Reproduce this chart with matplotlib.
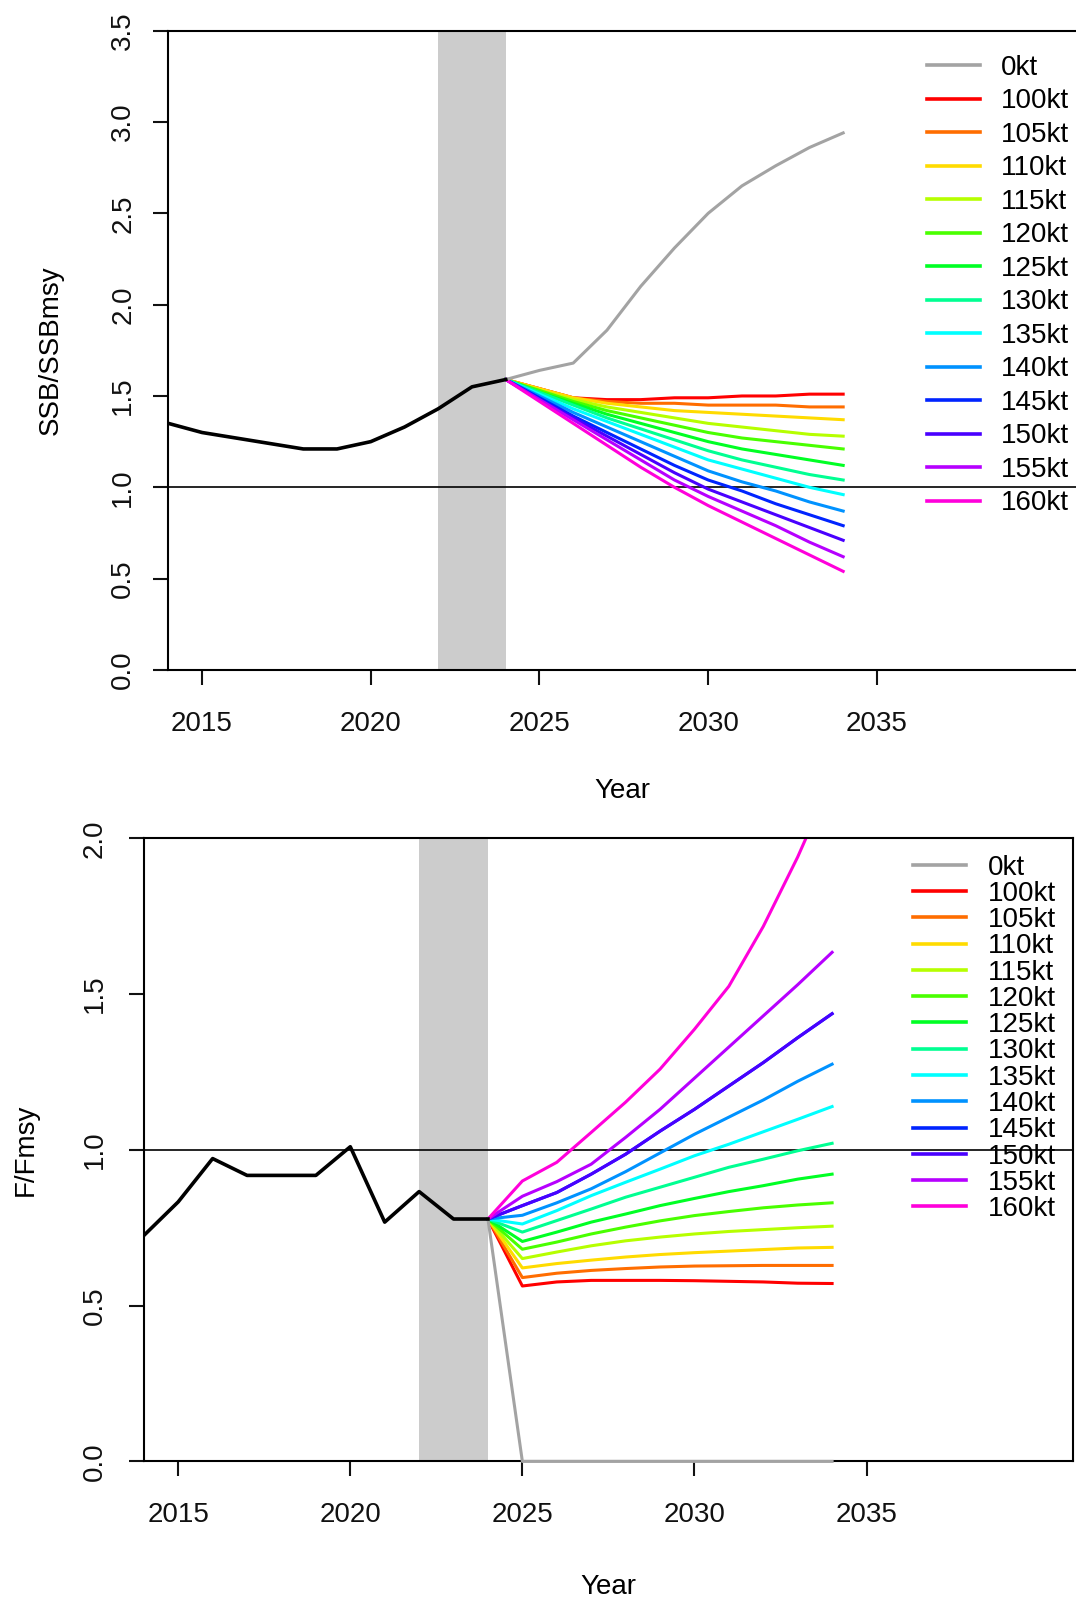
import numpy as np
import matplotlib
matplotlib.use("Agg")
import matplotlib.pyplot as plt
from matplotlib.colors import hsv_to_rgb
from matplotlib.lines import Line2D

plt.rcParams["font.family"] = ["Liberation Sans", "DejaVu Sans"]

# --- data -------------------------------------------------------------
hist_years = np.arange(2014, 2025)
proj_years = np.arange(2024, 2035)

ssb_hist = [1.35, 1.30, 1.27, 1.24, 1.21, 1.21, 1.25, 1.33, 1.43, 1.55, 1.59]
f_hist = [0.725, 0.833, 0.972, 0.918, 0.918, 0.918, 1.01, 0.768, 0.866, 0.778, 0.778]

catch_labels = ["0kt", "100kt", "105kt", "110kt", "115kt", "120kt", "125kt",
                "130kt", "135kt", "140kt", "145kt", "150kt", "155kt", "160kt"]

ssb_0kt = [1.59, 1.64, 1.68, 1.86, 2.10, 2.31, 2.50, 2.65, 2.76, 2.86, 2.94]
ssb_proj = [
    [1.59, 1.54, 1.49, 1.48, 1.48, 1.49, 1.49, 1.50, 1.50, 1.51, 1.51],  # 100kt
    [1.59, 1.54, 1.49, 1.47, 1.46, 1.46, 1.45, 1.45, 1.45, 1.44, 1.44],  # 105kt
    [1.59, 1.54, 1.49, 1.46, 1.44, 1.42, 1.41, 1.40, 1.39, 1.38, 1.37],  # 110kt
    [1.59, 1.53, 1.48, 1.44, 1.41, 1.38, 1.35, 1.33, 1.31, 1.29, 1.28],  # 115kt
    [1.59, 1.53, 1.47, 1.42, 1.38, 1.34, 1.30, 1.27, 1.25, 1.23, 1.21],  # 120kt
    [1.59, 1.52, 1.46, 1.40, 1.35, 1.30, 1.25, 1.21, 1.18, 1.15, 1.12],  # 125kt
    [1.59, 1.52, 1.45, 1.38, 1.32, 1.26, 1.20, 1.15, 1.11, 1.07, 1.04],  # 130kt
    [1.59, 1.51, 1.43, 1.36, 1.29, 1.22, 1.15, 1.10, 1.05, 1.00, 0.96],  # 135kt
    [1.59, 1.50, 1.41, 1.33, 1.25, 1.17, 1.09, 1.03, 0.98, 0.92, 0.87],  # 140kt
    [1.59, 1.49, 1.39, 1.30, 1.21, 1.12, 1.04, 0.98, 0.91, 0.85, 0.79],  # 145kt
    [1.59, 1.48, 1.38, 1.28, 1.18, 1.08, 0.99, 0.92, 0.85, 0.78, 0.71],  # 150kt
    [1.59, 1.48, 1.37, 1.26, 1.15, 1.04, 0.95, 0.87, 0.79, 0.70, 0.62],  # 155kt
    [1.59, 1.47, 1.35, 1.23, 1.11, 1.00, 0.90, 0.81, 0.72, 0.63, 0.54],  # 160kt
]

f_0kt = [0.778, 0.0, 0.0, 0.0, 0.0, 0.0, 0.0, 0.0, 0.0, 0.0, 0.0]
f_proj = [
    [0.778, 0.563, 0.576, 0.581, 0.581, 0.581, 0.580, 0.578, 0.576, 0.572, 0.571],  # 100kt
    [0.778, 0.590, 0.604, 0.613, 0.619, 0.624, 0.627, 0.628, 0.629, 0.629, 0.629],  # 105kt
    [0.778, 0.621, 0.635, 0.646, 0.656, 0.664, 0.670, 0.675, 0.680, 0.685, 0.687],  # 110kt
    [0.778, 0.651, 0.672, 0.692, 0.708, 0.720, 0.730, 0.738, 0.744, 0.750, 0.755],  # 115kt
    [0.778, 0.681, 0.704, 0.730, 0.752, 0.772, 0.789, 0.802, 0.814, 0.823, 0.830],  # 120kt
    [0.778, 0.706, 0.736, 0.768, 0.794, 0.821, 0.844, 0.866, 0.885, 0.906, 0.922],  # 125kt
    [0.778, 0.736, 0.773, 0.810, 0.848, 0.880, 0.912, 0.944, 0.970, 0.997, 1.021],  # 130kt
    [0.778, 0.762, 0.805, 0.853, 0.896, 0.938, 0.981, 1.018, 1.058, 1.098, 1.139],  # 135kt
    [0.778, 0.790, 0.830, 0.875, 0.930, 0.990, 1.050, 1.105, 1.160, 1.220, 1.275],  # 140kt
    [0.778, 0.821, 0.863, 0.922, 0.986, 1.060, 1.130, 1.205, 1.280, 1.360, 1.437],  # 145kt
    [0.778, 0.821, 0.863, 0.922, 0.986, 1.060, 1.130, 1.205, 1.280, 1.360, 1.437],  # 150kt
    [0.778, 0.851, 0.898, 0.954, 1.040, 1.130, 1.230, 1.330, 1.430, 1.530, 1.634],  # 155kt
    [0.778, 0.900, 0.960, 1.056, 1.153, 1.259, 1.387, 1.525, 1.717, 1.940, 2.190],  # 160kt
]

# --- style --------------------------------------------------------------
W, H, DPI = 1076, 1599, 100
FS = 20
TICK_LEN = 11
GREY_LINE = "#a3a3a3"
SHADE = "#cccccc"
n_col = len(ssb_proj)
colors = [hsv_to_rgb((i / (n_col + 1), 1, 1)) for i in range(n_col)]


def px_rect(left, top, right, bottom):
    return [left / W, 1 - bottom / H, (right - left) / W, (bottom - top) / H]


def draw_panel(ax, hist, zero, proj, ylim, yticks, ylabel, xmax, leg_anchor, leg_spacing,
               leg_textpad, ylab_x, xlab_y, ypad):
    ax.axvspan(2022, 2024, color=SHADE, lw=0, zorder=0)
    ax.axhline(1.0, color="black", lw=1.2, zorder=1)
    ax.plot(hist_years, hist, color="black", lw=2.6, zorder=3)
    ax.plot(proj_years, zero, color=GREY_LINE, lw=2.2, zorder=2.6, clip_on=False)
    for vals, col in zip(proj, colors):
        ax.plot(proj_years, vals, color=col, lw=2.2, zorder=2)

    ax.set_xlim(2014, xmax)
    ax.set_ylim(*ylim)
    ax.set_xticks([2015, 2020, 2025, 2030, 2035])
    ax.set_yticks(yticks)
    ax.set_yticklabels([f"{v:.1f}" for v in yticks], rotation=90, va="center")
    ax.tick_params(axis="both", direction="out", length=TICK_LEN, width=1.5,
                   labelsize=FS, colors="#111111")
    ax.tick_params(axis="x", pad=18.5)
    ax.tick_params(axis="y", pad=ypad)
    for sp in ax.spines.values():
        sp.set_linewidth(1.5)

    ax.set_xlabel("Year", fontsize=FS, va="center")
    ax.xaxis.set_label_coords(0.5, xlab_y)
    ax.set_ylabel(ylabel, fontsize=FS, va="center")
    ax.yaxis.set_label_coords(ylab_x, 0.5)

    handles = [Line2D([], [], color=GREY_LINE, lw=2.6)]
    handles += [Line2D([], [], color=c, lw=2.6) for c in colors]
    ax.legend(handles, catch_labels, loc="upper left", bbox_to_anchor=leg_anchor,
              frameon=False, fontsize=FS, handlelength=1.92, handletextpad=leg_textpad,
              labelspacing=leg_spacing, borderpad=0, borderaxespad=0)


fig = plt.figure(figsize=(W / DPI, H / DPI), dpi=DPI)

ax1 = fig.add_axes(px_rect(168.3, 30.6, 1076, 670))
draw_panel(ax1, ssb_hist, ssb_0kt, ssb_proj, (0, 3.5),
           [0, 0.5, 1.0, 1.5, 2.0, 2.5, 3.0, 3.5], "SSB/SSBmsy", 2040.9,
           (0.836, 0.962), 0.27, 0.72, -0.129, -0.19, 12)
ax1.spines["right"].set_visible(False)

ax2 = fig.add_axes(px_rect(143.8, 838.3, 1073, 1461.4))
draw_panel(ax2, f_hist, f_0kt, f_proj, (0, 2.0),
           [0, 0.5, 1.0, 1.5, 2.0], "F/Fmsy", 2041.0,
           (0.8275, 0.974), 0.01, 0.8, -0.1273, -0.2018, 15)

fig.savefig("out.png", dpi=DPI)
